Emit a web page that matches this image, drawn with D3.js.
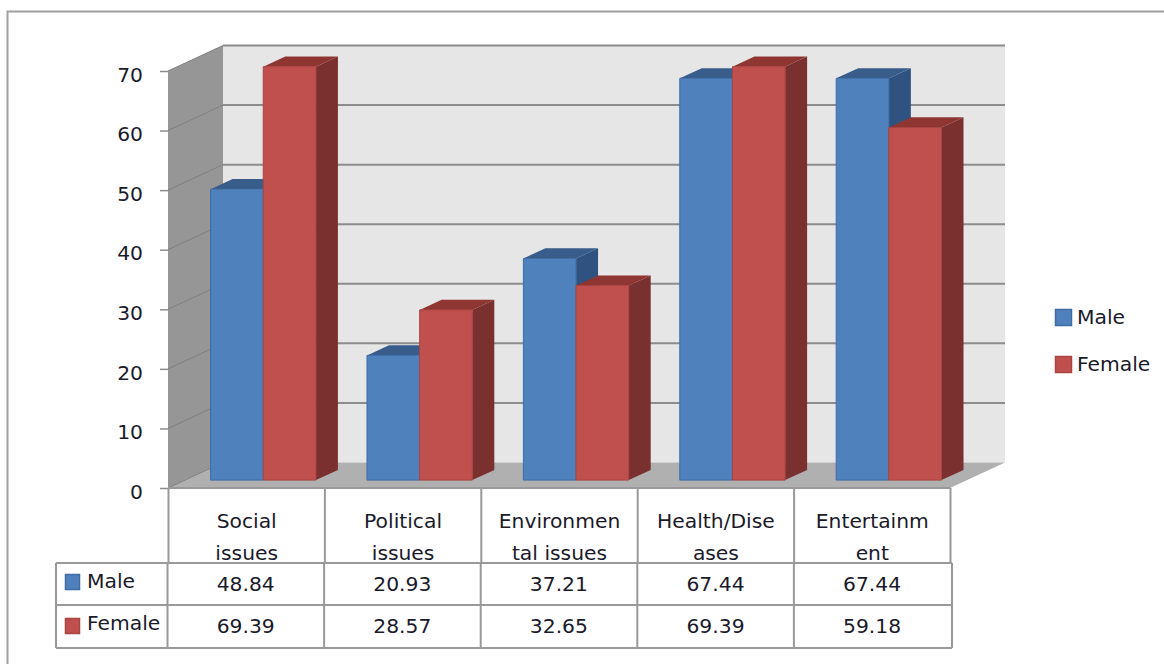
<!DOCTYPE html>
<html>
<head>
<meta charset="utf-8">
<script src="https://cdn.jsdelivr.net/npm/d3@7/dist/d3.min.js"></script>
<style>
html,body{margin:0;padding:0;background:#fff}
svg{display:block}
text{font-family:"DejaVu Sans",sans-serif;font-size:20.3px;fill:#1a1a2a}
</style>
</head>
<body>
<svg id="chart" width="1164" height="664"></svg>
<script>
const categoryLines = [["Social","issues"],["Political","issues"],["Environmen","tal issues"],["Health/Dise","ases"],["Entertainm","ent"]];
const seriesNames = ["Male","Female"];
const maleValues = [48.84,20.93,37.21,67.44,67.44];
const femaleValues = [69.39,28.57,32.65,69.39,59.18];
const valueLabels = [["48.84","20.93","37.21","67.44","67.44"],["69.39","28.57","32.65","69.39","59.18"]];
const yTicks = [0,10,20,30,40,50,60,70];

const frontColors = {Male:"#4f81bd",Female:"#c0504d"};
const topColors = {Male:"#385d8a",Female:"#8f3633"};
const sideColors = {Male:"#2f5280",Female:"#7a302e"};
const edgeColors = {Male:"#3e6ca3",Female:"#a84542"};

const svg = d3.select("#chart");
const step = 156.4;
const y = d3.scaleLinear().domain([0,70]).range([488,71]);
const x0 = d3.scaleBand().domain(d3.range(5)).range([168,950]);
const x1 = d3.scaleBand().domain(seriesNames).range([0,step]).paddingOuter(0.485);
// depth axis: 0 at the front edge of the floor, 1 at the back wall
const dz = d3.scaleLinear().domain([0,1]).range([0,55]);
const dy = d3.scaleLinear().domain([0,1]).range([0,-25.5]);
const pt = (px,v,d)=>[px+dz(d), y(v)+dy(d)];
const poly = (pts)=>pts.map(p=>p.join(",")).join(" ");
const poly3 = (g,pts,fill,stroke)=>g.append("polygon").attr("points",poly(pts)).attr("fill",fill).attr("stroke",stroke||"none").attr("stroke-width",stroke?1:0);

// outer frame, open to the page edge on the right and bottom
svg.append("path").attr("d","M7.5,664V11.5H1164").attr("fill","none").attr("stroke","#a0a0a0").attr("stroke-width",2);

// chart walls and floor
const walls = svg.append("g");
const xL = x0.range()[0], xR = x0.range()[1];
poly3(walls,[pt(xL,0,1),pt(xR,0,1),pt(xR,70,1),pt(xL,70,1)],"#e6e6e6");
poly3(walls,[pt(xL,0,0),pt(xL,0,1),pt(xL,70,1),pt(xL,70,0)],"#969696");
poly3(walls,[pt(xL,0,0),pt(xR,0,0),pt(xR,0,1),pt(xL,0,1)],"#b0b0b0");

// gridlines along both walls
const grid = svg.append("g");
yTicks.forEach(t=>{
  grid.append("polyline").attr("points",poly([pt(xL,t,0),pt(xL,t,1)]))
    .attr("fill","none").attr("stroke","#808080").attr("stroke-width",1);
  if(t>0) grid.append("polyline").attr("points",poly([pt(xL,t,1),pt(xR,t,1)]))
    .attr("fill","none").attr("stroke","#8c8c8c").attr("stroke-width",2);
});

// value axis
const axis = svg.append("g").attr("transform",`translate(${xL},0)`)
  .call(d3.axisLeft(y).tickValues(yTicks).tickSize(8).tickPadding(17));
axis.select(".domain").remove();
axis.selectAll("line").attr("stroke","#8c8c8c").attr("stroke-width",1.5);
axis.selectAll("text").attr("dy","0.5em").style("font-size","20.3px").style("font-family",'"DejaVu Sans",sans-serif').attr("fill","#1a1a2a");

// 3D columns: painted left to right so each column covers its neighbour's side
const zFront = 0.31, zBack = 0.71;
const seriesValues = {Male:maleValues,Female:femaleValues};
const bars = svg.append("g");
d3.range(5).forEach(i=>{
  seriesNames.forEach(name=>{
    const v = seriesValues[name][i];
    const a = x0(i)+x1(name), b = a+x1.bandwidth();
    const g = bars.append("g");
    poly3(g,[pt(b,0,zFront),pt(b,0,zBack),pt(b,v,zBack),pt(b,v,zFront)],sideColors[name]);
    poly3(g,[pt(a,v,zFront),pt(b,v,zFront),pt(b,v,zBack),pt(a,v,zBack)],topColors[name]);
    poly3(g,[pt(a,0,zFront),pt(b,0,zFront),pt(b,v,zFront),pt(a,v,zFront)],frontColors[name],edgeColors[name]);
  });
});

// data table under the plot
const table = svg.append("g").attr("fill","none").attr("stroke","#999").attr("stroke-width",2);
const rowY = [563,605,648];
const colLow = d3.scaleLinear().domain([0,5]).range([167.5,950.5]);
const colUp = d3.scaleLinear().domain([0,5]).range([168.5,950.5]);
d3.range(6).forEach(i=>{
  table.append("line").attr("x1",colUp(i)).attr("x2",colUp(i)).attr("y1",488).attr("y2",563);
  table.append("line").attr("x1",i===5?952:colLow(i)).attr("x2",i===5?952:colLow(i)).attr("y1",563).attr("y2",648);
});
rowY.forEach(r=>table.append("line").attr("x1",56).attr("x2",952).attr("y1",r).attr("y2",r));
table.append("line").attr("x1",56).attr("x2",56).attr("y1",563).attr("y2",648);
table.append("line").attr("x1",168).attr("x2",950).attr("y1",488).attr("y2",488);

const labels = svg.append("g").attr("text-anchor","middle");
categoryLines.forEach((ls,i)=>{
  const cx = colUp(i)+step/2;
  ls.forEach((l,j)=>labels.append("text").attr("x",cx).attr("y",528+j*32).text(l));
});
valueLabels.forEach((row,r)=>row.forEach((t,i)=>{
  labels.append("text").attr("x",colLow(i)+step/2).attr("y",[591,633][r]).text(t);
}));

// legend keys inside the table, and the legend on the right
const keys = svg.append("g");
seriesNames.forEach((name,r)=>{
  const ky=[574,618][r];
  keys.append("rect").attr("x",65.5).attr("y",ky+.5).attr("width",14).attr("height",15)
    .attr("fill",frontColors[name]).attr("stroke",edgeColors[name]).attr("stroke-width",1.5);
  keys.append("text").attr("x",87).attr("y",[588,630][r]).text(name);
  const ly=[309,356][r];
  keys.append("rect").attr("x",1055.5).attr("y",ly+.5).attr("width",16).attr("height",16)
    .attr("fill",frontColors[name]).attr("stroke",edgeColors[name]).attr("stroke-width",1.5);
  keys.append("text").attr("x",1077).attr("y",[324,371][r]).text(name);
});
</script>
</body>
</html>
